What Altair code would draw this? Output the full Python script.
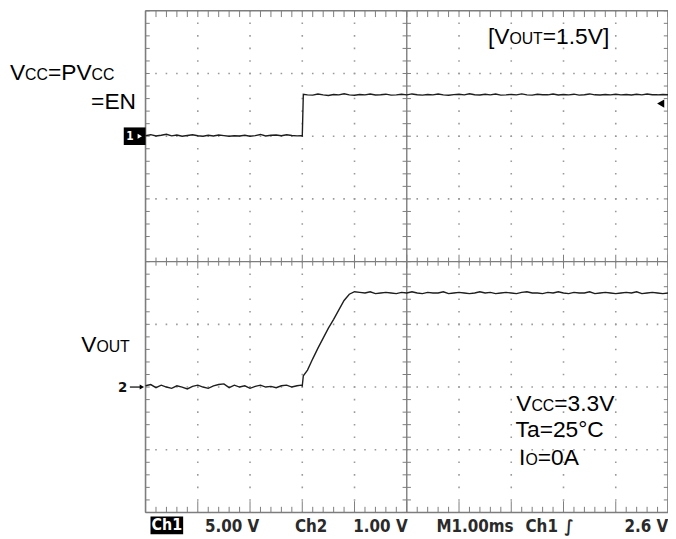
import altair as alt
import pandas as pd

# ---------------- data ----------------
# time in ms (M1.00ms -> 1 ms / division, 10 divisions)
T = [0.0, 0.1, 0.2, 0.3, 0.4, 0.5, 0.6, 0.7, 0.8, 0.9,
     1.0, 1.1, 1.2, 1.3, 1.4, 1.5, 1.6, 1.7, 1.8, 1.9,
     2.0, 2.1, 2.2, 2.3, 2.4, 2.5, 2.6, 2.7, 2.8, 2.9,
     2.98, 3.0, 3.02,
     3.1, 3.2, 3.3, 3.4, 3.5, 3.6, 3.7, 3.8, 3.9,
     4.0, 4.1, 4.2, 4.3, 4.4, 4.5, 4.6, 4.7, 4.8, 4.9,
     5.0, 5.1, 5.2, 5.3, 5.4, 5.5, 5.6, 5.7, 5.8, 5.9,
     6.0, 6.1, 6.2, 6.3, 6.4, 6.5, 6.6, 6.7, 6.8, 6.9,
     7.0, 7.1, 7.2, 7.3, 7.4, 7.5, 7.6, 7.7, 7.8, 7.9,
     8.0, 8.1, 8.2, 8.3, 8.4, 8.5, 8.6, 8.7, 8.8, 8.9,
     9.0, 9.1, 9.2, 9.3, 9.4, 9.5, 9.6, 9.7, 9.8, 9.9,
     10.0]

# Ch1: VCC = PVCC = EN  (volts)
CH1 = [0.05, 0.12, 0.02, 0.08, 0.15, 0.03, 0.10, 0.00, 0.06, 0.12,
       0.04, 0.00, 0.08, 0.02, 0.10, 0.05, 0.00, 0.04, 0.02, 0.08,
       0.00, 0.05, 0.14, 0.02, 0.08, 0.10, 0.04, 0.12, 0.06, 0.03,
       0.05, 0.02, 3.35,
       3.30, 3.28, 3.36, 3.30, 3.25, 3.32, 3.30, 3.38, 3.30,
       3.27, 3.33, 3.30, 3.36, 3.29, 3.31, 3.35, 3.28, 3.30, 3.34,
       3.30, 3.37, 3.31, 3.28, 3.33, 3.30, 3.36, 3.30, 3.27, 3.32,
       3.35, 3.30, 3.38, 3.31, 3.29, 3.34, 3.30, 3.36, 3.28, 3.30,
       3.33, 3.30, 3.37, 3.30, 3.28, 3.34, 3.31, 3.30, 3.36, 3.29,
       3.32, 3.30, 3.35, 3.28, 3.31, 3.37, 3.30, 3.29, 3.33, 3.30,
       3.35, 3.30, 3.32, 3.29, 3.34, 3.30, 3.36, 3.31, 3.30, 3.33,
       3.30]

# Ch2: VOUT (volts)
CH2 = [0.02, 0.04, -0.01, 0.03, 0.00, -0.02, 0.02, 0.00, -0.03, 0.01,
       0.03, 0.00, -0.02, 0.02, 0.04, 0.05, -0.01, 0.03, 0.00, 0.02,
       -0.02, 0.01, 0.03, 0.00, 0.01, -0.01, 0.02, 0.03, 0.00, 0.02,
       0.03, 0.02, 0.18,
       0.27, 0.45, 0.62, 0.78, 0.94, 1.08, 1.23, 1.38, 1.48,
       1.52, 1.51, 1.50, 1.52, 1.49, 1.50, 1.51, 1.50, 1.49, 1.51,
       1.50, 1.52, 1.50, 1.49, 1.51, 1.50, 1.50, 1.52, 1.49, 1.50,
       1.51, 1.50, 1.49, 1.50, 1.52, 1.50, 1.51, 1.49, 1.50, 1.51,
       1.50, 1.49, 1.51, 1.52, 1.50, 1.50, 1.49, 1.51, 1.50, 1.52,
       1.50, 1.49, 1.51, 1.50, 1.50, 1.52, 1.49, 1.50, 1.51, 1.50,
       1.49, 1.50, 1.51, 1.50, 1.52, 1.49, 1.50, 1.51, 1.50, 1.49,
       1.50]

CH1_VDIV, CH2_VDIV = 5.0, 1.0        # volts per division
CH1_GND, CH2_GND = 6.0, 2.0          # ground-marker positions (divisions)
TRIG_LEVEL = 2.6                     # Ch1 trigger level (V)

STATUS = ["5.00 V", "Ch2", "1.00 V", "M1.00ms", "Ch1", "\u222b", "2.6 V"]
STATUS_X = [1.136, 2.86, 3.977, 5.568, 7.273, 8.02, 9.167]

LABELS = ["V", "CC", "=PV", "CC", "=EN",
          "[V", "OUT", "=1.5V]",
          "V", "OUT",
          "V", "CC", "=3.3V", "Ta=25\u00b0C", "I", "O", "=0A"]
LABEL_X = [-2.595, -2.305, -1.868, -1.033, -1.042,
           6.553, 6.964, 7.604,
           -1.231, -0.941,
           7.097, 7.386, 7.824, 7.083, 7.150, 7.271, 7.506]
LABEL_Y = [6.895, 6.895, 6.895, 6.895, 6.438,
           7.463, 7.463, 7.463,
           2.551, 2.551,
           1.62, 1.62, 1.62, 1.21, 0.762, 0.762, 0.762]
LABEL_SIZE = [23, 16, 23, 16, 23,
              23, 16, 23,
              23, 16,
              23, 16, 23, 23, 23, 16, 23]

# ---------------- layout ----------------
W, H = 528, 507
NX, NY = 10, 8
PX, PY = W / NX, H / NY
xs = alt.Scale(domain=[0, NX], nice=False, zero=False)
ys = alt.Scale(domain=[0, NY], nice=False, zero=False)
X = lambda f: alt.X(f, scale=xs, axis=None)
Y = lambda f: alt.Y(f, scale=ys, axis=None)

GRID = "#9a9a9a"
EDGE = "#7d7d7d"
INK = "#1e1e1e"

# grid: dotted division lines
vlines = pd.DataFrame({"x": [1, 2, 3, 4, 6, 7, 8, 9]})
vlines["y"], vlines["y2"] = 0, NY
hlines = pd.DataFrame({"y": [1, 2, 3, 5, 6, 7]})
hlines["x"], hlines["x2"] = 0, NX

dot_v = alt.Chart(vlines).mark_rule(
    color=GRID, strokeWidth=1.6, strokeDash=[1.6, PY / 5 - 1.6], strokeDashOffset=0.8
).encode(x=X("x:Q"), y=Y("y:Q"), y2="y2:Q")
dot_h = alt.Chart(hlines).mark_rule(
    color=GRID, strokeWidth=1.6, strokeDash=[1.6, PX / 5 - 1.6], strokeDashOffset=0.8
).encode(y=Y("y:Q"), x=X("x:Q"), x2="x2:Q")

# solid border, centre cross-hair and their minor ticks
segs = [
    (0, 0, 0, NY, 1.6), (NX, NX, 0, NY, 1.6),
    (0, NX, 0, 0, 1.6), (0, NX, NY, NY, 1.6),
    (5, 5, 0, NY, 1.4), (0, NX, 4, 4, 1.4),
]
for i in range(NX * 5 + 1):
    mx = i / 5
    major = i % 5 == 0
    segs.append((mx, mx, NY, NY - 0.1, 1.0))
    segs.append((mx, mx, 0, 0.18 if major else 0.09, 1.0))
    d = 0.11 if major else 0.065
    segs.append((mx, mx, 4 - d, 4 + d, 1.0))
for j in range(NY * 5 + 1):
    my = j / 5
    segs.append((0, 0.08, my, my, 1.0))
    segs.append((NX, NX - 0.08, my, my, 1.0))
    segs.append((5 - 0.08, 5 + 0.08, my, my, 1.0))
seg_df = pd.DataFrame(segs, columns=["x", "x2", "y", "y2", "w"])
frame = alt.Chart(seg_df).mark_rule(color=EDGE).encode(
    x=X("x:Q"), x2="x2:Q", y=Y("y:Q"), y2="y2:Q",
    strokeWidth=alt.StrokeWidth("w:Q", scale=None),
)

# traces
tr = pd.DataFrame({"t": T, "ch1": CH1, "ch2": CH2})
ch1 = alt.Chart(tr).transform_calculate(
    div=f"{CH1_GND} + datum.ch1 / {CH1_VDIV}"
).mark_line(color=INK, strokeWidth=1.4).encode(x=X("t:Q"), y=Y("div:Q"))
ch2 = alt.Chart(tr).transform_calculate(
    div=f"{CH2_GND} + datum.ch2 / {CH2_VDIV}"
).mark_line(color=INK, strokeWidth=1.4).encode(x=X("t:Q"), y=Y("div:Q"))

# channel / trigger markers
boxes = pd.DataFrame({"x": [-0.417, 0.095], "x2": [0.0, 0.72],
                      "y": [CH1_GND - 0.14, -0.063], "y2": [CH1_GND + 0.14, -0.347]})
box_layer = alt.Chart(boxes).mark_rect(color="#000000").encode(
    x=X("x:Q"), x2="x2:Q", y=Y("y:Q"), y2="y2:Q")

white_txt = pd.DataFrame({"txt": ["1", "Ch1"], "x": [-0.30, 0.407], "y": [CH1_GND, -0.205],
                          "s": [12, 16]})
white_layer = alt.Chart(white_txt).mark_text(
    color="white", fontWeight="bold", font="DejaVu Sans Condensed, Liberation Sans Narrow, DejaVu Sans",
    align="center", baseline="middle"
).encode(x=X("x:Q"), y=Y("y:Q"), text="txt:N", size=alt.Size("s:Q", scale=None))

tri_r = pd.DataFrame({"x": [-0.11, -0.07], "y": [CH1_GND, CH2_GND], "c": ["white", "black"]})
tri_r_layer = alt.Chart(tri_r).mark_point(shape="triangle-right", filled=True, size=26, opacity=1).encode(
    x=X("x:Q"), y=Y("y:Q"), color=alt.Color("c:N", scale=None))

two_arrow = pd.DataFrame({"x": [-0.30], "x2": [-0.08], "y": [CH2_GND]})
two_arrow_layer = alt.Chart(two_arrow).mark_rule(color="black", strokeWidth=1.2).encode(
    x=X("x:Q"), x2="x2:Q", y=Y("y:Q"))
two_txt = pd.DataFrame({"txt": ["2"], "x": [-0.44], "y": [CH2_GND]})
two_layer = alt.Chart(two_txt).mark_text(
    color="#111", fontWeight="bold", fontSize=15, font="DejaVu Sans Condensed, DejaVu Sans",
    align="center", baseline="middle"
).encode(x=X("x:Q"), y=Y("y:Q"), text="txt:N")

trig = pd.DataFrame({"x": [9.86], "y": [CH1_GND + TRIG_LEVEL / CH1_VDIV]})
trig_layer = alt.Chart(trig).mark_point(shape="triangle-left", filled=True, size=70,
                                        color="black", opacity=1).encode(x=X("x:Q"), y=Y("y:Q"))

# status bar
status_df = pd.DataFrame({"txt": STATUS, "x": STATUS_X})
status_df["y"] = -0.316
status_layer = alt.Chart(status_df).mark_text(
    color="#2a2a2a", fontWeight="bold", fontSize=17,
    font="DejaVu Sans Condensed, Liberation Sans Narrow, DejaVu Sans",
    align="left", baseline="alphabetic"
).encode(x=X("x:Q"), y=Y("y:Q"), text="txt:N")

# annotation labels
lab_df = pd.DataFrame({"txt": LABELS, "x": LABEL_X, "y": LABEL_Y, "s": LABEL_SIZE})
lab_layer = alt.Chart(lab_df).mark_text(
    color="#000000", font="Liberation Sans, Arial, sans-serif",
    align="left", baseline="alphabetic"
).encode(x=X("x:Q"), y=Y("y:Q"), text="txt:N", size=alt.Size("s:Q", scale=None))

chart = alt.layer(
    dot_v, dot_h, frame, ch1, ch2, box_layer, white_layer, tri_r_layer,
    two_arrow_layer, two_layer, trig_layer, status_layer, lab_layer
).properties(
    width=W, height=H,
    autosize=alt.AutoSizeParams(type="none"),
    padding={"left": 139, "top": 0, "right": 0, "bottom": 24},
    background="white",
).configure_view(stroke=None)

chart.save("out.html", embed_options={"renderer": "svg", "actions": False})
